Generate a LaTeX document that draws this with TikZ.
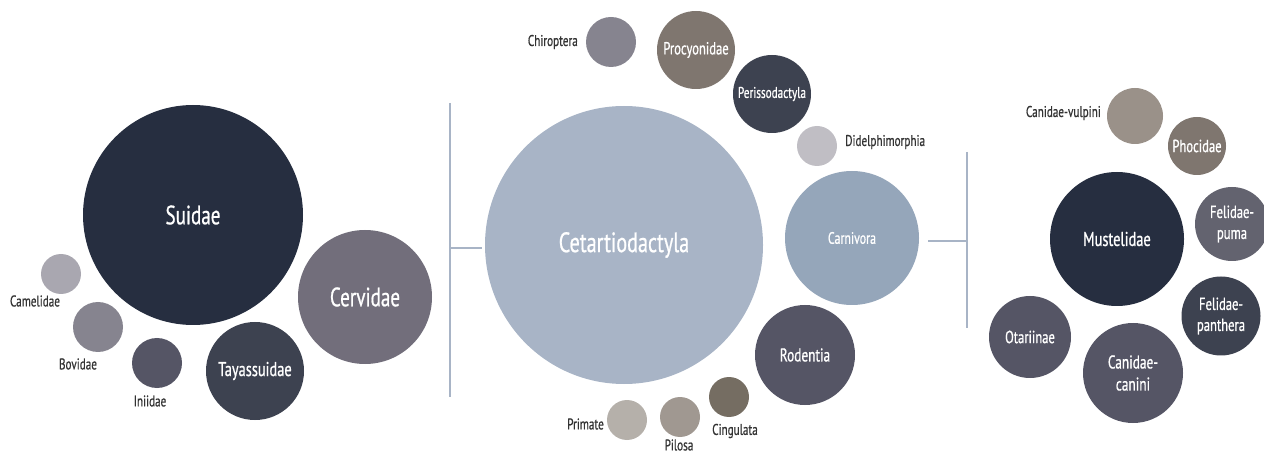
\documentclass[tikz,border=0pt]{standalone}
\usepackage{fontspec}
\setmainfont[FakeStretch=0.72,FakeBold=0.7]{PT Sans}
\definecolor{cnavy}{HTML}{262E40}
\definecolor{cslate}{HTML}{3D4250}
\definecolor{cplum}{HTML}{726E7B}
\definecolor{cgrape}{HTML}{555565}
\definecolor{cgrey}{HTML}{86848F}
\definecolor{cmist}{HTML}{A9A7B0}
\definecolor{cpale}{HTML}{C0BEC4}
\definecolor{cblue}{HTML}{A8B4C6}
\definecolor{csteel}{HTML}{95A6BA}
\definecolor{ctaupe}{HTML}{7F766F}
\definecolor{cmud}{HTML}{756D62}
\definecolor{cstone}{HTML}{A09891}
\definecolor{csand}{HTML}{B5B0AA}
\definecolor{cash}{HTML}{9A9189}
\definecolor{cdusk}{HTML}{63636F}
\definecolor{labelgray}{HTML}{333333}
\newcommand{\fsz}[2]{\fontsize{#1}{#2}\selectfont}
\begin{document}
\begin{tikzpicture}[x=1pt,y=-1pt,
  bub/.style={circle,inner sep=0pt,minimum size=#1,align=center,text=white},
  lbl/.style={text=labelgray,inner sep=0pt,font=\fsz{15.5}{17}},
  bracket/.style={draw=cblue,line width=2pt}]
\useasboundingbox (0,0) rectangle (1264,454);
% left group
\node[bub=220,fill=cnavy,font=\fsz{26.5}{30}] (suidae) at (193,215) {Suidae};
\node[bub=134,fill=cplum,font=\fsz{26.5}{30}] (cervidae) at (365,297) {Cervidae};
\node[bub=98,fill=cslate,font=\fsz{20}{24}] (tayassuidae) at (255,371) {Tayassuidae};
\node[bub=40,fill=cmist] (camelidae) at (61,274) {};
\node[bub=50,fill=cgrey] (bovidae) at (98,327) {};
\node[bub=50,fill=cgrape] (iniidae) at (157,363) {};
\node[lbl] (camelidae-l) at (35,301) {Camelidae};
\node[lbl] (bovidae-l) at (78,364) {Bovidae};
\node[lbl] (iniidae-l) at (150,401) {Iniidae};
% middle group
\node[bub=278,fill=cblue,font=\fsz{28}{32}] (cetart) at (624,245) {Cetartiodactyla};
\node[bub=50,fill=cgrey] (chiroptera) at (611,42) {};
\node[bub=78,fill=ctaupe,font=\fsz{17.5}{20}] (procyonidae) at (696,50) {Procyonidae};
\node[bub=78,fill=cslate,font=\fsz{15.5}{18}] (perisso) at (772,94) {Perissodactyla};
\node[bub=40,fill=cpale] (didelphi) at (817,146) {};
\node[bub=134,fill=csteel,font=\fsz{16.5}{19}] (carnivora) at (852,238) {Carnivora};
\node[bub=100,fill=cgrape,font=\fsz{18.5}{22}] (rodentia) at (805,355) {Rodentia};
\node[bub=40,fill=cmud] (cingulata) at (729,397) {};
\node[bub=40,fill=cstone] (pilosa) at (680,417) {};
\node[bub=40,fill=csand] (primate) at (627,420) {};
\node[lbl,anchor=east] (chiroptera-l) at (578,42) {Chiroptera};
\node[lbl,anchor=west] (didelphi-l) at (845,142) {Didelphimorphia};
\node[lbl] (cingulata-l) at (735,431) {Cingulata};
\node[lbl] (pilosa-l) at (679,445) {Pilosa};
\node[lbl,anchor=east] (primate-l) at (604,424) {Primate};
% right group
\node[bub=56,fill=cash] (vulpini) at (1135,116) {};
\node[bub=58,fill=ctaupe,font=\fsz{17.5}{20}] (phocidae) at (1197,146) {Phocidae};
\node[bub=74,fill=cdusk,font=\fsz{17.5}{21}] (puma) at (1232,224) {Felidae-\\puma};
\node[bub=134,fill=cnavy,font=\fsz{20}{24}] (mustelidae) at (1117,239) {Mustelidae};
\node[bub=79,fill=cslate,font=\fsz{17.5}{21}] (panthera) at (1221,316) {Felidae-\\panthera};
\node[bub=82,fill=cgrape,font=\fsz{17.5}{21}] (otariinae) at (1030,337) {Otariinae};
\node[bub=100,fill=cgrape,font=\fsz{18.5}{22}] (canini) at (1133,373) {Canidae-\\canini};
\node[lbl,anchor=east] (vulpini-l) at (1101,113) {Canidae-vulpini};
% brackets
\coordinate (lbtop) at (450,103);
\coordinate (lbbot) at (450,397);
\coordinate (lbmid) at (450,248);
\draw[bracket] (lbtop) -- (lbbot);
\draw[bracket,shorten >=3pt] (lbmid) -- (lbmid -| cetart.west);
\coordinate (rbtop) at (967,152);
\coordinate (rbbot) at (967,328);
\coordinate (rbmid) at (967,241);
\draw[bracket] (rbtop) -- (rbbot);
\draw[bracket,shorten <=9pt] (rbmid -| carnivora.east) -- (rbmid);
\end{tikzpicture}
\end{document}
